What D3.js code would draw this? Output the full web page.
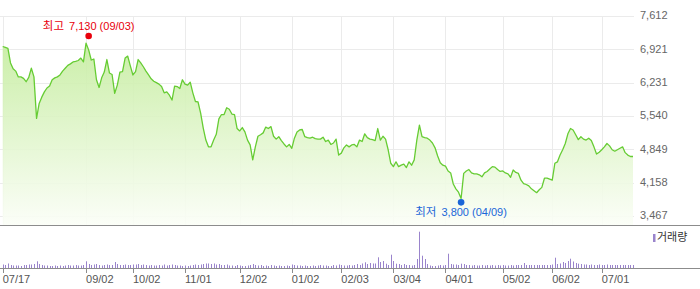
<!DOCTYPE html>
<html><head><meta charset="utf-8">
<script src="https://cdn.jsdelivr.net/npm/d3@7"></script>
<style>
html,body{margin:0;padding:0;background:#fff;}
svg{display:block;font-family:"Liberation Sans",Arial,"Noto Sans CJK KR",sans-serif;}
</style></head>
<body><svg id="c" width="700" height="289"></svg>
<script>
// daily closing prices, 2024-07-17 .. 2025-07-17 (trading days)
const prices = [
6980,6960,6940,6640,6520,6470,6350,6350,6320,6250,6340,6530,6350,5490,5800,5930,6040,6120,6160,6290,
6330,6350,6390,6470,6530,6590,6620,6660,6670,6690,6740,6660,7050,6910,6700,6720,6290,6130,6330,6450,
6710,6430,6400,6010,6180,6450,6460,6740,6780,6580,6390,6460,6710,6640,6560,6470,6390,6310,6260,6230,
6200,6150,6020,6040,5970,5870,6160,6150,6110,6290,6200,6180,6240,6020,5840,5830,5600,5290,5040,4900,
4900,5040,5160,5480,5570,5570,5710,5680,5580,5570,5280,5230,5300,5210,5040,4940,4630,4900,5120,5150,
5190,5310,5280,5320,5120,5060,5110,5030,4960,4900,4950,4870,5080,5210,5250,5260,5110,5090,5080,5100,
5070,5060,5060,5100,5010,5040,4950,4980,5060,4730,4770,4880,4940,4900,4940,4950,4900,5040,5010,5170,
5090,5060,5050,5030,5280,5040,5120,5060,4840,4560,4490,4590,4490,4520,4540,4470,4590,4520,4630,5040,
5350,5110,5090,5080,5040,4980,4880,4710,4570,4520,4500,4400,4360,4130,4030,3960,3830,4350,4400,4430,
4360,4340,4340,4320,4280,4360,4390,4440,4490,4480,4430,4390,4400,4360,4340,4270,4420,4370,4350,4210,
4140,4120,4090,4030,3990,3950,4010,4060,4250,4250,4230,4210,4560,4590,4730,4840,4970,5170,5280,5250,
5150,5050,5110,5060,5040,5080,5030,4900,4750,4790,4840,4900,4970,4920,4840,4810,4840,4870,4900,4780,
4730,4700,4700
];
// daily volume (thousand shares)
const volumes = [
175,150,225,150,125,125,125,100,150,150,175,175,200,335,200,150,125,125,100,100,
125,100,125,100,125,150,125,125,150,125,125,150,335,200,150,175,200,150,125,150,
175,150,150,300,200,150,150,175,150,150,175,175,200,150,175,150,125,150,125,125,
150,125,175,125,150,175,150,125,125,100,125,100,125,150,175,150,175,200,225,225,
200,225,175,200,150,150,175,125,125,100,150,125,100,100,125,150,200,150,125,150,
100,125,100,150,125,100,125,100,100,125,100,175,150,125,125,100,125,100,100,125,
100,125,150,125,125,100,100,150,125,175,150,125,125,150,125,150,200,150,225,285,
200,250,225,225,535,300,350,215,150,665,350,215,200,150,200,150,150,125,150,450,
1815,615,450,200,125,100,100,125,150,125,150,715,200,175,175,150,215,200,150,150,
125,150,125,125,150,125,150,125,150,125,150,125,150,125,125,150,125,150,150,150,
250,150,150,150,150,150,150,150,150,150,150,175,515,200,225,300,250,350,465,325,
250,215,200,175,175,150,175,150,150,175,150,150,175,150,150,150,150,150,150,150,
150,150,150
];
const tickLabels = ["07/17","09/02","10/02","11/01","12/02","01/02","02/03","03/04","04/01","05/02","06/02","07/01"];
const tickIndex  = [0,32,50,70,91,111,130,150,170,192,211,230];
const priceTicks = [7612,6921,6231,5540,4849,4158,3467];
const extremeNames  = ["최고","최저"];
const extremeValues = [7130,3800];
const extremeDates  = ["09/03","04/09"];
const extremeIndex  = [33,176];
const legendLabel = "거래량";

const svg = d3.select("#c");
const W = 700;
const plotL = 0, plotR = 634;
const x = d3.scaleLinear().domain([0, prices.length-1]).range([2.7, 633]);
const y = d3.scaleLinear().domain([3467, 7612]).range([216, 16]);
const priceBottom = 225;
const volBase = 268;
const yv = d3.scaleLinear().domain([0, 2100]).range([volBase, 226]);

// gradient
const defs = svg.append("defs");
const g = defs.append("linearGradient").attr("id","fillG")
  .attr("gradientUnits","userSpaceOnUse").attr("x1",0).attr("y1",16).attr("x2",0).attr("y2",priceBottom);
g.append("stop").attr("offset","0%").attr("stop-color","#bdea92");
g.append("stop").attr("offset","100%").attr("stop-color","#fbfef7");

// grid
svg.append("g").selectAll("line").data(priceTicks).join("line")
  .attr("x1",plotL).attr("x2",plotR)
  .attr("y1",d=>Math.round(y(d))+0.5).attr("y2",d=>Math.round(y(d))+0.5)
  .attr("stroke","#ebebeb").attr("stroke-width",1);
svg.append("g").selectAll("line").data(tickIndex).join("line")
  .attr("x1",d=>Math.round(x(d))+0.5).attr("x2",d=>Math.round(x(d))+0.5)
  .attr("y1",16).attr("y2",priceBottom)
  .attr("stroke","#ebebeb").attr("stroke-width",1);

// area + line
const area = d3.area().x((d,i)=>x(i)).y0(priceBottom).y1(d=>y(d));
svg.append("path").datum(prices).attr("d",area).attr("fill","url(#fillG)").attr("opacity",0.9);
const line = d3.line().x((d,i)=>x(i)).y(d=>y(d));
svg.append("path").datum(prices).attr("d",line).attr("fill","none")
  .attr("stroke","#66cc33").attr("stroke-width",1.3).attr("stroke-linejoin","round");

// separators
svg.append("line").attr("x1",0).attr("x2",W).attr("y1",priceBottom+0.5).attr("y2",priceBottom+0.5)
  .attr("stroke","#8c8c8c");
// volume bars
svg.append("g").selectAll("rect").data(volumes).join("rect")
  .attr("x",(d,i)=>Math.round(x(i))).attr("width",1)
  .attr("y",d=>yv(d)).attr("height",d=>volBase-yv(d))
  .attr("fill","#9a84cc");
svg.append("line").attr("x1",0).attr("x2",W).attr("y1",volBase+0.5).attr("y2",volBase+0.5)
  .attr("stroke","#8c8c8c");

// x ticks
svg.append("g").selectAll("line").data(tickIndex).join("line")
  .attr("x1",d=>Math.round(x(d))+0.5).attr("x2",d=>Math.round(x(d))+0.5)
  .attr("y1",volBase).attr("y2",volBase+5).attr("stroke","#8c8c8c");
svg.append("g").selectAll("text").data(tickLabels).join("text")
  .attr("x",(d,i)=>x(tickIndex[i])).attr("y",280).attr("dominant-baseline","middle")
  .attr("font-size",11).attr("fill","#555").text(d=>d);

// y labels
svg.append("g").selectAll("text").data(priceTicks).join("text")
  .attr("x",640).attr("y",d=>y(d)+0.5).attr("dominant-baseline","middle")
  .attr("font-size",11).attr("fill","#666").text(d=>d3.format(",")(d));

// legend
svg.append("rect").attr("x",653).attr("y",234).attr("width",2.5).attr("height",8).attr("fill","#9a84cc");
svg.append("text").attr("x",657).attr("y",238.5).attr("dominant-baseline","middle")
  .attr("font-size",11).attr("fill","#333").text(legendLabel);

// extremes
const colors = ["#e8000c","#1a66d8"];
extremeValues.forEach((v,k)=>{
  const cx = x(extremeIndex[k]);
  const cy = y(v) + (k===0 ? -3.3 : 2.4);
  svg.append("circle").attr("cx",cx).attr("cy",cy).attr("r",3.3).attr("fill",colors[k]);
  const t = svg.append("text").attr("x",cx).attr("y", k===0 ? cy-6 : cy+14)
    .attr("text-anchor","middle").attr("font-size",11).attr("fill",colors[k]);
  t.append("tspan").attr("font-size",11.5).text(extremeNames[k]);
  t.append("tspan").attr("dx",5).text(`${d3.format(",")(v)} (${extremeDates[k]})`);
});
</script></body></html>
